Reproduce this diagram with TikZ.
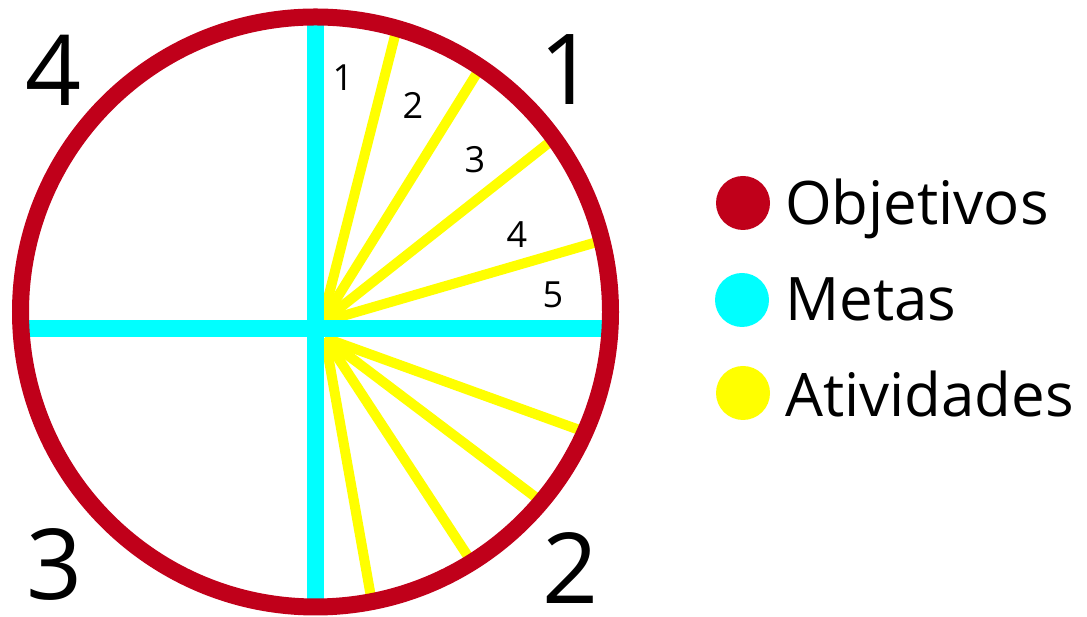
\documentclass[tikz,border=0pt]{standalone}
\usepackage{fontspec}
\setmainfont{Open Sans}
\definecolor{objred}{RGB}{192,0,26}
\definecolor{metacyan}{RGB}{0,255,255}
\definecolor{ativyellow}{RGB}{255,255,0}
\begin{document}
\begin{tikzpicture}[x=1pt, y=1pt,
		ativ/.style={draw=ativyellow, line width=10pt},
		meta/.style={draw=metacyan, line width=17pt},
		obj/.style={draw=objred, line width=17pt},
		big/.style={inner sep=0pt, font=\fontsize{98}{98}\selectfont},
		small/.style={inner sep=0pt, font=\fontsize{36}{36}\selectfont},
		dot/.style={circle, minimum size=54pt, inner sep=0pt},
		legend/.style={anchor=base west, inner sep=0pt, font=\fontsize{60}{60}\selectfont}]
		\useasboundingbox (0,0) rectangle (1087,617);

		\coordinate (c) at (315.5,305);
		\coordinate (fu) at (322,295);
		\coordinate (fd) at (325,279);

		% atividades
		\foreach \a [count=\i] in {74,56,36,14} {
			\path (c) ++(\a:295) coordinate (u\i);
			\draw[ativ] (fu) -- (u\i);
		}
		\foreach \a [count=\i] in {-24,-40,-58,-79} {
			\path (c) ++(\a:295) coordinate (d\i);
			\draw[ativ] (fd) -- (d\i);
		}

		% metas
		\coordinate (mt) at (315.5,600);
		\coordinate (mb) at (315.5,10);
		\coordinate (ml) at (21,288);
		\coordinate (mr) at (610,288);
		\draw[meta] (mt) -- (mb);
		\draw[meta] (ml) -- (mr);

		% objetivos
		\draw[obj] (c) circle (295);

		\node[big] (q4) at (54,547) {4};
		\node[big] (q1) at (568,547) {1};
		\node[big] (q3) at (55,52) {3};
		\node[big] (q2) at (571,49) {2};

		\node[small] (a1) at (343,539) {1};
		\node[small] (a2) at (413,512) {2};
		\node[small] (a3) at (475,457) {3};
		\node[small] (a4) at (517,382) {4};
		\node[small] (a5) at (553,322) {5};

		% legenda
		\node[dot, fill=objred] (lo) at (743,414) {};
		\node[dot, fill=metacyan] (lm) at (742,317) {};
		\node[dot, fill=ativyellow] (la) at (743,224) {};
		\node[legend] (to) at (785,392) {Objetivos};
		\node[legend] (tm) at (785,296) {Metas};
		\node[legend] (ta) at (785,200) {Atividades};

	\end{tikzpicture}
\end{document}
